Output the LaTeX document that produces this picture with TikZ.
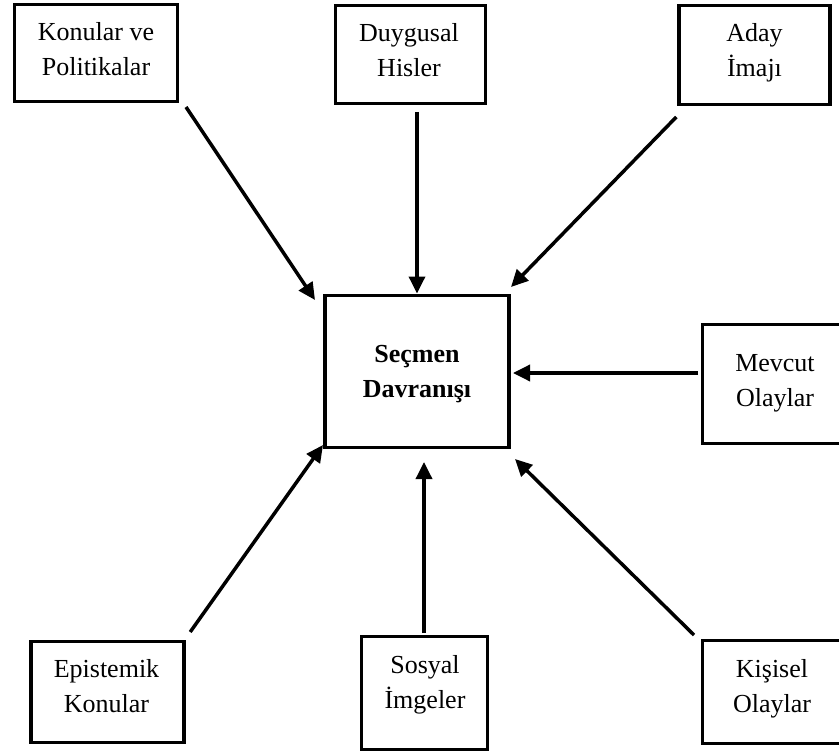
\documentclass[tikz,border=0pt]{standalone}
\usepackage{fontspec}
\setmainfont{Liberation Serif}
\usetikzlibrary{arrows.meta}
\begin{document}
\begin{tikzpicture}[x=1pt,y=-1pt,
  box/.style={draw,line width=3.5pt,rectangle,inner sep=0pt,outer sep=0pt},
  txt/.style={align=center,inner sep=0pt,font=\fontsize{26}{35}\selectfont},
  arr/.style={line width=3.5pt,-{Triangle[length=17pt,width=16pt]}}]
\useasboundingbox (0,0) rectangle (839,752);
% boxes
\node[box,minimum width=163pt,minimum height=97pt] (k) at (96,53) {};
\node[box,minimum width=150pt,minimum height=98pt] (d) at (410.5,54.5) {};
\node[box,minimum width=151pt,minimum height=99pt] (a) at (754.3,55) {};
\node[box,minimum width=184pt,minimum height=152pt] (c) at (417,371.5) {};
\node[box,minimum width=142.5pt,minimum height=119pt] (m) at (773.75,384) {};
\node[box,minimum width=153.4pt,minimum height=101pt] (e) at (107.5,692) {};
\node[box,minimum width=126pt,minimum height=113pt] (s) at (424.5,693) {};
\node[box,minimum width=142.5pt,minimum height=103pt] (p) at (773.75,692) {};
% texts
\node[txt] (kt) at (96,51) {\strut Konular ve\\\strut Politikalar};
\node[txt] (dt) at (409,52.5) {\strut Duygusal\\\strut Hisler};
\node[txt] (at) at (754.5,52) {\strut Aday\\\strut İmajı};
\node[txt,font=\fontsize{26}{35}\selectfont\bfseries] (ct) at (417,372.5) {\strut Seçmen\\\strut Davranışı};
\node[txt] (mt) at (775,381.5) {\strut Mevcut\\\strut Olaylar};
\node[txt] (et) at (106.5,688) {\strut Epistemik\\\strut Konular};
\node[txt] (st) at (425,683.5) {\strut Sosyal\\\strut İmgeler};
\node[txt] (pt) at (772,688) {\strut Kişisel\\\strut Olaylar};
% arrows
\draw[arr] ([shift={(8.5,5.5)}]k.south east) -- ([shift={(-10,4.5)}]c.north west);
\draw[arr] ([shift={(6.5,8.5)}]d.south) -- ([shift={(0,-2)}]c.north);
\draw[arr] ([shift={(-2.5,12.5)}]a.south west) -- ([shift={(2,-8.5)}]c.north east);
\draw[arr] ([shift={(-4.5,-11)}]m.west) -- ([shift={(4,1.5)}]c.east);
\draw[arr] ([shift={(6,-9.5)}]e.north east) -- ([shift={(-2,-2.5)}]c.south west);
\draw[arr] ([shift={(-0.5,-3.5)}]s.north) -- ([shift={(7,14.5)}]c.south);
\draw[arr] ([shift={(-8.5,-5.5)}]p.north west) -- ([shift={(6,11.5)}]c.south east);
\end{tikzpicture}
\end{document}
